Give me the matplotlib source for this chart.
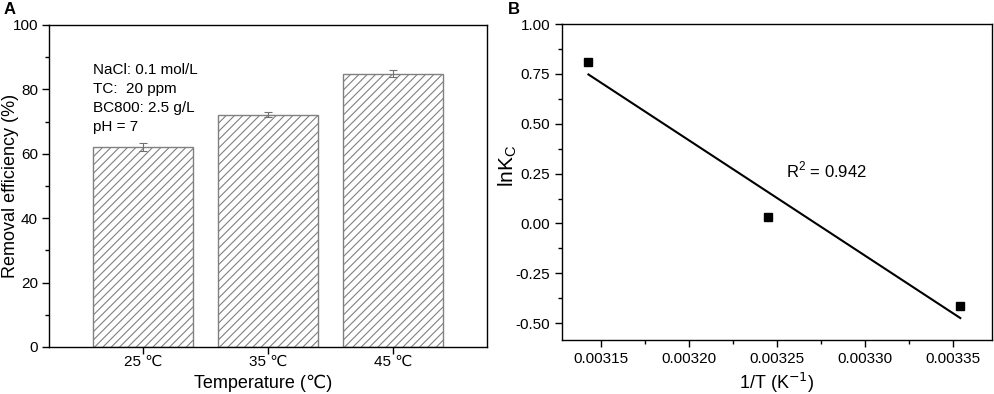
import numpy as np
from matplotlib import pyplot as plt
from matplotlib.ticker import MultipleLocator

plt.rcParams['font.family'] = ['Liberation Sans', 'DejaVu Sans']
plt.rcParams['hatch.color'] = '#606060'
plt.rcParams['hatch.linewidth'] = 0.8

# panel A data
temps = ['25 \u2103', '35 \u2103', '45 \u2103']
removal = [62.2, 72.2, 84.9]
removal_err = [1.2, 0.9, 1.2]
conditions = ['NaCl: 0.1 mol/L', 'TC:  20 ppm', 'BC800: 2.5 g/L', 'pH = 7']

# panel B data
inv_t = [0.003143, 0.003245, 0.003354]
ln_kc = [0.81, 0.035, -0.415]

fig = plt.figure(figsize=(9.95, 3.94), dpi=100)

# ---- A: bar chart
ax1 = fig.add_axes([49 / 995, 1 - 347 / 394, 438 / 995, 322 / 394])
x = np.arange(len(temps))
ax1.bar(x, removal, width=0.8, color='white', edgecolor='#808080',
        hatch='////', linewidth=1.0)
ax1.errorbar(x, removal, yerr=removal_err, fmt='none', ecolor='#707070',
             elinewidth=0.8, capsize=3, capthick=0.8)
ax1.set_xlim(-0.75, 2.75)
ax1.set_ylim(0, 100)
ax1.set_xticks(x)
ax1.set_xticklabels(temps, fontsize=11)
ax1.yaxis.set_major_locator(MultipleLocator(20))
ax1.yaxis.set_minor_locator(MultipleLocator(10))
ax1.tick_params(axis='both', labelsize=11, direction='out', length=5, width=1)
ax1.tick_params(axis='x', pad=1)
ax1.tick_params(axis='y', pad=3)
ax1.tick_params(which='minor', length=3, width=1)
ax1.set_xlabel('Temperature (\u2103)', fontsize=13)
ax1.set_ylabel('Removal efficiency (%)', fontsize=13)
ax1.xaxis.set_label_coords(0.49, -0.085)
ax1.yaxis.set_label_coords(-0.068, 0.5)
for i, line in enumerate(conditions):
    ax1.text(-0.4, 86 - i * 5.9, line, fontsize=11, va='center', ha='left')
for s in ax1.spines.values():
    s.set_linewidth(1.0)
fig.text(4 / 995, 1 - 10 / 394, 'A', fontsize=12, fontweight='bold', va='center')

# ---- B: van't Hoff plot
ax2 = fig.add_axes([562 / 995, 1 - 340 / 394, 430 / 995, 316 / 394])
ax2.plot(inv_t, ln_kc, 's', color='black', markersize=6)
slope, icpt = np.polyfit(inv_t, ln_kc, 1)
fit_x = np.array([inv_t[0], inv_t[-1]])
ax2.plot(fit_x, slope * fit_x + icpt, color='black', linewidth=1.5)
ax2.set_xlim(0.003128, 0.003372)
ax2.set_ylim(-0.584, 1.0)
ax2.xaxis.set_major_locator(MultipleLocator(0.00005))
ax2.xaxis.set_minor_locator(MultipleLocator(0.000025))
ax2.yaxis.set_major_locator(MultipleLocator(0.25))
ax2.yaxis.set_minor_locator(MultipleLocator(0.125))
ax2.xaxis.set_major_formatter(plt.FuncFormatter(lambda v, p: f'{v:.5f}'))
ax2.yaxis.set_major_formatter(plt.FuncFormatter(lambda v, p: f'{v:.2f}'))
ax2.tick_params(axis='both', labelsize=11, direction='out', length=5, width=1)
ax2.tick_params(which='minor', length=3, width=1)
ax2.set_xlabel('1/T (K$^{-1}$)', fontsize=13, labelpad=4)
ax2.set_ylabel('lnK$_\\mathregular{C}$', fontsize=15)
ax2.yaxis.set_label_coords(-0.1, 0.55)
ax2.text(0.003255, 0.27, 'R$^\\mathregular{2}$ = 0.942', fontsize=12, va='center')
for s in ax2.spines.values():
    s.set_linewidth(1.0)
fig.text(508 / 995, 1 - 10 / 394, 'B', fontsize=12, fontweight='bold', va='center')

fig.savefig('out.png', dpi=100)
